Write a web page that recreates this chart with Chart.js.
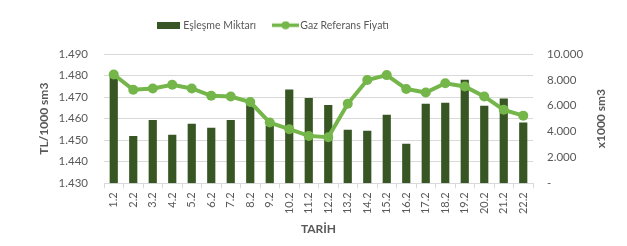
<!DOCTYPE html>
<html>
<head>
<meta charset="utf-8">
<script src="https://cdn.jsdelivr.net/npm/chart.js@4/dist/chart.umd.min.js"></script>
<style>
html,body{margin:0;padding:0;background:#fff;}
canvas{display:block;}
</style>
</head>
<body>
<canvas id="c" width="627" height="246"></canvas>
<script>
// ---- data ----
const categories = ['1.2','2.2','3.2','4.2','5.2','6.2','7.2','8.2','9.2','10.2','11.2','12.2','13.2','14.2','15.2','16.2','17.2','18.2','19.2','20.2','21.2','22.2'];
const eslesmeMiktari = [8300, 3650, 4900, 3750, 4600, 4300, 4900, 6400, 4450, 7250, 6600, 6050, 4150, 4070, 5300, 3050, 6150, 6230, 8000, 6000, 6550, 4700];
const gazReferansFiyati = [1.4805, 1.4734, 1.4740, 1.4757, 1.4740, 1.4706, 1.4703, 1.4677, 1.4582, 1.4551, 1.4520, 1.4514, 1.4669, 1.4779, 1.4802, 1.4738, 1.4721, 1.4764, 1.4749, 1.4703, 1.4641, 1.4614];
const leftTickValues = [1.430, 1.440, 1.450, 1.460, 1.470, 1.480, 1.490];
const rightTickValues = [0, 2000, 4000, 6000, 8000, 10000];
const seriesNames = ['Eşleşme Miktarı', 'Gaz Referans Fiyatı'];
const leftTitle = 'TL/1000 sm3';
const rightTitle = 'x1000 sm3';
const xTitle = 'TARİH';

const BAR = '#375623';
const LINE = '#74b649';
const TXT = '#595959';
const GRID = '#d9d9d9';
const FONT = 'Lato';

function fmtThousands(v){
  if (v === 0) return '-';
  return String(Math.round(v)).replace(/\B(?=(\d{3})+(?!\d))/g, '.');
}

// legend symbols
function barSymbol(){
  const c = document.createElement('canvas'); c.width = 23; c.height = 7;
  const x = c.getContext('2d'); x.fillStyle = BAR; x.fillRect(0,0,23,7); return c;
}
function lineSymbol(){
  const c = document.createElement('canvas'); c.width = 27; c.height = 9;
  const x = c.getContext('2d');
  x.strokeStyle = LINE; x.lineWidth = 3.5; x.beginPath(); x.moveTo(0,4.5); x.lineTo(27,4.5); x.stroke();
  x.fillStyle = LINE; x.beginPath(); x.arc(13.5,4.5,4,0,Math.PI*2); x.fill(); return c;
}
const symbols = [barSymbol(), lineSymbol()];

const layoutPlugin = {
  id: 'layoutTweak',
  beforeLayout(chart){
    const lg = chart.legend;
    if (lg && !lg._patched){
      const f = lg.fit.bind(lg);
      lg.fit = function(){ f(); this.height = 54; };
      lg._patched = true;
    }
  },
  afterLayout(chart){
    if (chart.legend){ chart.legend.left = 139; }
  },
  afterDraw(chart){
    const ctx = chart.ctx;
    ctx.save();
    ctx.translate(601, (chart.chartArea.top + chart.chartArea.bottom)/2);
    ctx.rotate(-Math.PI/2);
    ctx.font = 'bold 12px ' + FONT;
    ctx.fillStyle = TXT;
    ctx.textAlign = 'center';
    ctx.textBaseline = 'middle';
    ctx.fillText(rightTitle, 0, 0);
    ctx.restore();
  }
};

new Chart(document.getElementById('c'), {
  data: {
    labels: categories,
    datasets: [
      {
        type: 'bar', label: seriesNames[0], data: eslesmeMiktari, yAxisID: 'y2',
        backgroundColor: BAR, borderWidth: 0, barPercentage: 0.42, categoryPercentage: 1, order: 2
      },
      {
        type: 'line', label: seriesNames[1], data: gazReferansFiyati, yAxisID: 'y',
        borderColor: LINE, backgroundColor: LINE, borderWidth: 4, pointRadius: 5,
        pointBackgroundColor: LINE, pointBorderWidth: 0, tension: 0, order: 1
      }
    ]
  },
  options: {
    responsive: false,
    animation: false,
    devicePixelRatio: 1,
    layout: { padding: 0 },
    plugins: {
      tooltip: { enabled: false },
      legend: {
        position: 'top',
        align: 'start',
        labels: {
          color: TXT,
          font: { family: FONT, size: 10.5 },
          usePointStyle: true,
          pointStyleWidth: 19,
          padding: 20,
          sort: (a, b) => a.datasetIndex - b.datasetIndex,
          generateLabels(chart){
            const items = Chart.defaults.plugins.legend.labels.generateLabels(chart);
            items.forEach(it => { it.pointStyle = symbols[it.datasetIndex]; it.fontColor = TXT; });
            return items;
          }
        }
      }
    },
    scales: {
      x: {
        type: 'category',
        offset: true,
        grid: { display: true, drawOnChartArea: false, drawTicks: true, tickLength: 5, color: GRID, offset: true },
        border: { display: true, color: GRID },
        ticks: { color: TXT, font: { family: FONT, size: 11 }, minRotation: 90, maxRotation: 90, autoSkip: false, padding: 4 },
        title: { display: true, text: xTitle, color: TXT, font: { family: FONT, size: 12, weight: 'bold' }, padding: { top: 0, bottom: 10 } },
        afterFit(s){ s.height = 62.7; }
      },
      y: {
        type: 'linear', position: 'left', min: 1.43, max: 1.49,
        afterBuildTicks(s){ s.ticks = leftTickValues.map(v => ({ value: v })); },
        grid: { color: GRID, drawTicks: false },
        border: { display: false },
        ticks: { color: TXT, font: { family: FONT, size: 11.5 }, padding: 16, callback: v => Number(v).toFixed(3) },
        title: { display: true, text: leftTitle, color: TXT, font: { family: FONT, size: 12, weight: 'bold' }, padding: { top: 37, bottom: 0 } },
        afterFit(s){ s.width = 104; }
      },
      y2: {
        type: 'linear', position: 'right', min: 0, max: 10000,
        afterBuildTicks(s){ s.ticks = rightTickValues.map(v => ({ value: v })); },
        grid: { display: false, drawTicks: false },
        border: { display: false },
        ticks: { color: TXT, font: { family: FONT, size: 11.5 }, padding: 14, callback: v => fmtThousands(v) },
        afterFit(s){ s.width = 94; }
      }
    }
  },
  plugins: [layoutPlugin]
});
</script>
</body>
</html>
